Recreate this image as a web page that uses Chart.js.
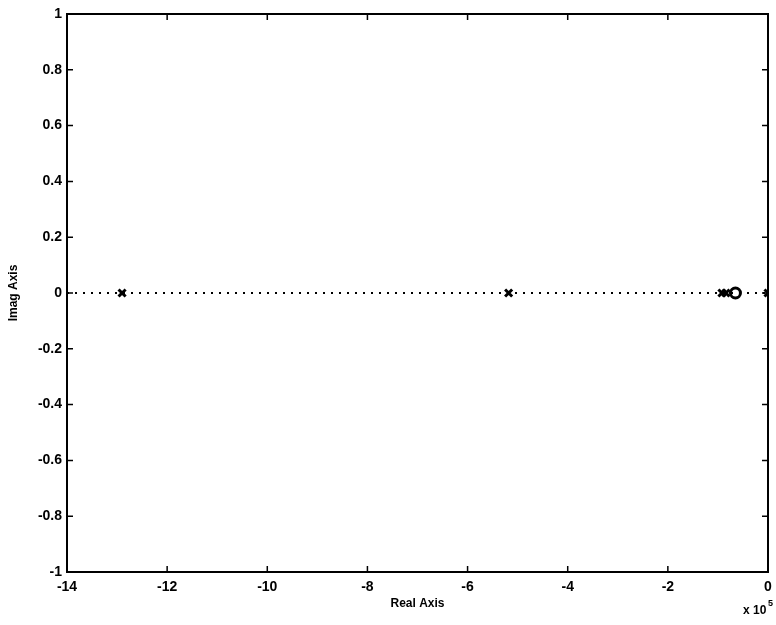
<!DOCTYPE html>
<html lang="en">
<head>
  <meta charset="UTF-8" />
  <title>Pole-Zero Map</title>
  <script src="https://cdn.jsdelivr.net/npm/chart.js"></script>
  <style>
    html, body { margin: 0; padding: 0; background: #fff; }
    #wrap { width: 776px; height: 625px; }
  </style>
</head>
<body>
  <div id="wrap"><canvas id="pzmap"></canvas></div>

  <script>
    // Data (real parts in units of 1e5)
    const poleReal = [-12.9, -5.18, -0.92, -0.84, 0];
    const poleImag = [0, 0, 0, 0, 0];
    const zeroReal = [-0.65];
    const zeroImag = [0];
    const axisLineX = [-14, 0];
    const xTicks = [-14, -12, -10, -8, -6, -4, -2, 0];
    const yTicks = [-1, -0.8, -0.6, -0.4, -0.2, 0, 0.2, 0.4, 0.6, 0.8, 1];

    const FONT = 'Liberation Sans, Arial, sans-serif';

    // frame + inward tick marks on all four sides, plus the x10^5 note
    const framePlugin = {
      id: 'frame',
      afterDraw(chart) {
        const { ctx, chartArea: a, scales } = chart;
        ctx.save();
        ctx.strokeStyle = '#000';
        ctx.lineWidth = 2;
        ctx.strokeRect(a.left, a.top, a.right - a.left, a.bottom - a.top);
        ctx.lineWidth = 1.5;
        ctx.beginPath();
        scales.x.ticks.forEach(t => {
          const px = scales.x.getPixelForValue(t.value);
          ctx.moveTo(px, a.bottom); ctx.lineTo(px, a.bottom - 6);
          ctx.moveTo(px, a.top); ctx.lineTo(px, a.top + 6);
        });
        scales.y.ticks.forEach(t => {
          const py = scales.y.getPixelForValue(t.value);
          ctx.moveTo(a.left, py); ctx.lineTo(a.left + 6, py);
          ctx.moveTo(a.right, py); ctx.lineTo(a.right - 6, py);
        });
        ctx.stroke();

        ctx.fillStyle = '#000';
        ctx.textBaseline = 'alphabetic';
        ctx.textAlign = 'left';
        ctx.font = 'bold 12px ' + FONT;
        ctx.fillText('x 10', 743, 614);
        ctx.font = 'bold 9px ' + FONT;
        ctx.fillText('5', 768, 606);
        ctx.restore();
      }
    };

    const pts = (xs, ys) => xs.map((x, i) => ({ x: x, y: ys[i] }));

    new Chart(document.getElementById('pzmap'), {
      type: 'scatter',
      data: {
        datasets: [
          {
            type: 'line',
            data: pts(axisLineX, [0, 0]),
            borderColor: '#000',
            borderWidth: 2,
            borderDash: [2, 6],
            pointRadius: 0,
            fill: false
          },
          {
            label: 'Poles',
            data: pts(poleReal, poleImag),
            pointStyle: 'crossRot',
            pointRadius: 5,
            borderColor: '#000',
            borderWidth: 3,
            backgroundColor: '#000'
          },
          {
            label: 'Zeros',
            data: pts(zeroReal, zeroImag),
            pointStyle: 'circle',
            pointRadius: 5,
            borderColor: '#000',
            borderWidth: 3,
            backgroundColor: '#fff'
          }
        ]
      },
      options: {
        responsive: true,
        maintainAspectRatio: false,
        animation: false,
        layout: { padding: { top: 14, right: 8, left: 0, bottom: 0 } },
        plugins: { legend: { display: false }, tooltip: { enabled: false } },
        scales: {
          x: {
            type: 'linear',
            min: -14, max: 0,
            afterBuildTicks: s => { s.ticks = xTicks.map(v => ({ value: v })); },
            afterFit: s => { s.height = 53; s.paddingLeft = 0; s.paddingRight = 0; },
            grid: { display: false, drawTicks: false },
            border: { display: false },
            ticks: {
              padding: 7,
              color: '#000',
              font: { family: FONT, size: 14, weight: 'bold' },
              maxRotation: 0,
              callback: v => String(v)
            },
            title: {
              display: true,
              text: 'Real Axis',
              color: '#000',
              padding: { top: 0, bottom: 14 },
              font: { family: FONT, size: 12, weight: 'bold' }
            }
          },
          y: {
            type: 'linear',
            min: -1, max: 1,
            afterBuildTicks: s => { s.ticks = yTicks.map(v => ({ value: v })); },
            afterFit: s => { s.width = 67; s.paddingTop = 0; s.paddingBottom = 0; },
            grid: { display: false, drawTicks: false },
            border: { display: false },
            ticks: {
              padding: 5,
              color: '#000',
              font: { family: FONT, size: 14, weight: 'bold' },
              callback: v => String(Math.round(v * 10) / 10)
            },
            title: {
              display: true,
              text: 'Imag Axis',
              color: '#000',
              padding: { top: 6, bottom: 0 },
              font: { family: FONT, size: 12, weight: 'bold' }
            }
          }
        }
      },
      plugins: [framePlugin]
    });
  </script>
</body>
</html>
